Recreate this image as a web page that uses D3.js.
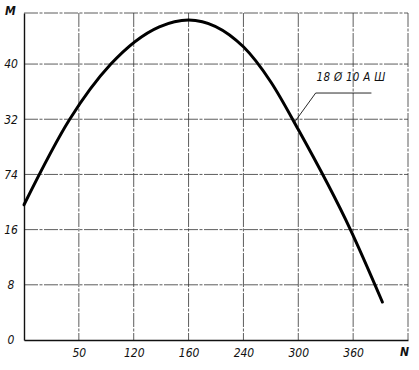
<!DOCTYPE html>
<html>
<head>
<meta charset="utf-8">
<script src="https://cdn.jsdelivr.net/npm/d3@7/dist/d3.min.js"></script>
<style>
  html, body { margin: 0; padding: 0; background: #fff; }
  svg { display: block; }
  text { font-family: "Liberation Sans Narrow", "DejaVu Sans Condensed", "Liberation Sans", sans-serif; font-style: italic; fill: #111; }
</style>
</head>
<body>
<svg id="chart" width="419" height="370"></svg>
<script>
// curve: N vs M
const curveN = [0, 50, 95, 148, 180, 240, 270, 300, 357, 392];
const curveM = [19.6, 32, 40, 45.4, 46.4, 42.5, 37.4, 30.5, 16, 5.5];

// ticks (labels as printed on the original)
const xTicks = [60, 120, 180, 240, 300, 360];
const xTickLabels = ["50", "120", "160", "240", "300", "360"];
const yTicks = [0, 8, 16, 24, 32, 40];
const yTickLabels = ["0", "8", "16", "74", "32", "40"];

const seriesLabel = "18 \u00D8 10 A \u0428";

(function () {
  const svg = d3.select("#chart");
  const left = 24, right = 408, top = 13, bottom = 340;

  const x = d3.scaleLinear().domain([0, 420]).range([left, right]);
  const y = d3.scaleLinear().domain([0, 47.4]).range([bottom, top]);

  // grid
  const grid = svg.append("g").attr("stroke", "#333").attr("stroke-width", 0.8)
    .attr("stroke-dasharray", "14,1.5,3,1.5");
  grid.selectAll("line.v").data(xTicks).enter().append("line")
    .attr("x1", d => x(d)).attr("x2", d => x(d)).attr("y1", top).attr("y2", bottom);
  grid.selectAll("line.h").data(yTicks.filter(d => d > 0)).enter().append("line")
    .attr("y1", d => y(d)).attr("y2", d => y(d)).attr("x1", left).attr("x2", right);
  // top and right frame
  grid.append("line").attr("x1", left).attr("x2", right).attr("y1", top).attr("y2", top);
  grid.append("line").attr("x1", right).attr("x2", right).attr("y1", top).attr("y2", bottom);

  // axes (solid)
  const xAxis = d3.axisBottom(x).tickValues(xTicks).tickSize(0).tickPadding(6)
    .tickFormat((d, i) => xTickLabels[i]);
  const gx = svg.append("g").attr("transform", `translate(0,${bottom})`).call(xAxis);
  gx.select(".domain").attr("stroke", "#111").attr("stroke-width", 1.4);
  gx.selectAll("text").attr("font-size", 12).attr("dy", "0.9em").style("font-family", null);

  const yAxis = d3.axisLeft(y).tickValues(yTicks).tickSize(0).tickPadding(6)
    .tickFormat((d, i) => yTickLabels[i]);
  const gy = svg.append("g").attr("transform", `translate(${left},0)`).call(yAxis);
  gy.select(".domain").attr("stroke", "#111").attr("stroke-width", 1.4);
  gy.selectAll("text").attr("font-size", 12).attr("text-anchor", "middle").attr("x", -13)
    .style("font-family", null);

  // axis names
  svg.append("text").attr("x", 5).attr("y", 15).attr("font-size", 12).attr("font-weight", 700).text("M");
  svg.append("text").attr("x", 400).attr("y", 356).attr("font-size", 12).attr("font-weight", 700).text("N");

  // curve
  const pts = curveN.map((n, i) => [n, curveM[i]]);
  const line = d3.line().x(d => x(d[0])).y(d => y(d[1])).curve(d3.curveMonotoneX);
  svg.append("path").datum(pts).attr("d", line)
    .attr("fill", "none").attr("stroke", "#000").attr("stroke-width", 3).attr("stroke-linecap", "round");

  // series annotation with leader
  const ax = x(296), ay = y(31.6);
  svg.append("path")
    .attr("d", `M${ax},${ay} L${x(319)},${y(35.8)} L${x(380)},${y(35.8)}`)
    .attr("fill", "none").attr("stroke", "#111").attr("stroke-width", 0.9);
  svg.append("text").attr("x", x(320)).attr("y", y(37.5)).attr("font-size", 11.5)
    .attr("letter-spacing", 0.3).text(seriesLabel);
})();
</script>
</body>
</html>
